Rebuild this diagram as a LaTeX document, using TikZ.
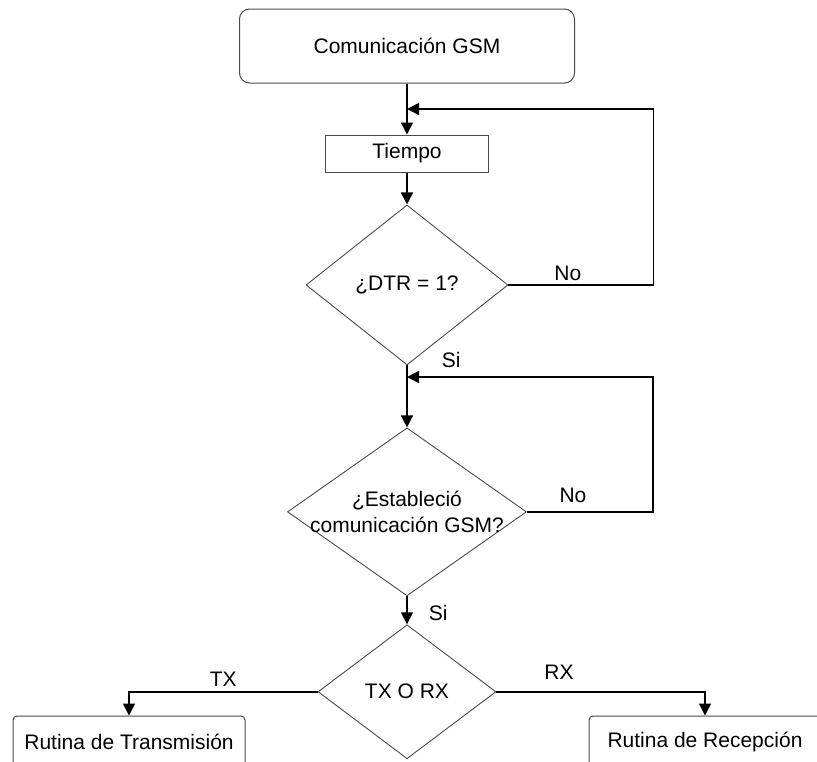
\documentclass[tikz,border=0pt]{standalone}
\usepackage{fontspec}
\setmainfont{Liberation Sans}
\usetikzlibrary{arrows.meta,positioning,shapes.geometric}

\definecolor{shapegray}{HTML}{4A4A4A}

\tikzset{
	block/.style={draw=shapegray, line width=1pt, rectangle, inner sep=0pt,
		minimum width=163pt, minimum height=37pt},
	startblock/.style={block, rounded corners=10pt, minimum width=335pt, minimum height=74pt},
	routine/.style={block, rounded corners=4pt, minimum width=232pt, minimum height=52pt},
	decision/.style={draw=shapegray, line width=0.9pt, diamond, align=center,
		inner xsep=-40pt, inner ysep=0pt, aspect=1.4},
	tag/.style={inner sep=1pt}
}

\begin{document}
\begin{tikzpicture}[x=1pt, y=-1pt, >={Triangle[length=12pt,width=12pt]},
	line width=1.5pt, font=\fontsize{21}{26}\selectfont]
	\useasboundingbox (0,0) rectangle (817,761);
	\clip (0,0) rectangle (817,761);

	% Nodes {com, tiempo, dtr, gsm, txrx, tx, rx}
	\node [startblock] (com) at (407,46) {Comunicación GSM};
	\node [block] (tiempo) [below=51pt of com] {Tiempo};
	\node [decision, minimum width=202pt, minimum height=160pt] (dtr) [below=32pt of tiempo] {¿DTR = 1?};
	\node [decision, minimum width=239pt, minimum height=168pt] (gsm) [below=62pt of dtr] {¿Estableció\\comunicación GSM?};
	\node [decision, minimum width=178pt, minimum height=134pt] (txrx) [below=28pt of gsm] {TX O RX};
	\node [routine] (tx) at (129,742) {Rutina de Transmisión};
	\node [routine] (rx) at (705,742) {Rutina de Recepción};

	% Joints where the loops come back
	\coordinate (j1) at (407,109);
	\coordinate (j2) at (407,377);

	% Paths
	\path [->] (com) edge (tiempo);
	\path [->] (tiempo) edge (dtr);
	\path [->] (dtr.south) edge node [tag, pos=0, right=33pt, yshift=5pt] {Si} (gsm.north);
	\path [->] (gsm.south) edge node [tag, midway, right=20pt, yshift=-3pt] {Si} (txrx.north);

	% Loops back on "No"
	\draw [->] (dtr.east) -- node [tag, pos=0.41, above=3pt] {No} ++(145,0) |- (j1);
	\draw [->] (gsm.east) -- node [tag, pos=0.365, above=7pt] {No} ++(126,0) |- (j2);

	% Branches
	\draw [->] (txrx.west) -| node [tag, pos=0.25, above=4pt] {TX} (tx.north);
	\draw [->] (txrx.east) -| node [tag, pos=0.15, above=11pt] {RX} (rx.north);
\end{tikzpicture}
\end{document}
